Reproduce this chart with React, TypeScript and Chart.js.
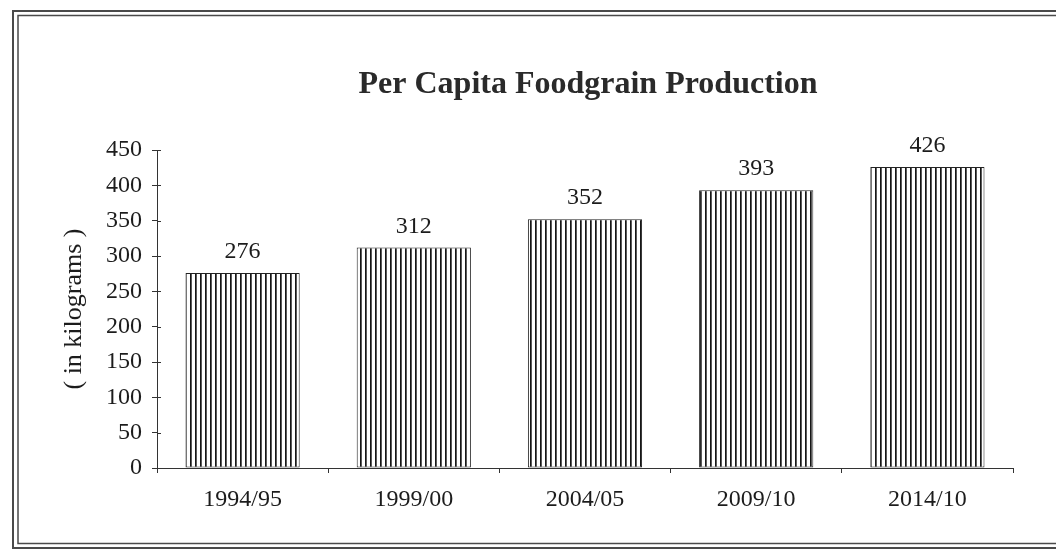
import React, { useEffect, useRef } from "react";
import { Chart, registerables } from "chart.js";

Chart.register(...registerables);

// Per capita foodgrain production, kilograms per person
const periods = ["1994/95", "1999/00", "2004/05", "2009/10", "2014/10"];
const perCapitaKg = [276, 312, 352, 393, 426];
const axisMin = 0;
const axisMax = 450;
const axisStep = 50;

const chartTitle = "Per Capita Foodgrain Production";
const yAxisTitle = "( in kilograms )";

const SERIF = '"Liberation Serif", "Times New Roman", serif';
const INK = "#1c1c1c";

// Vertical hatching used as the bar fill
function makeHatch(): CanvasPattern | string {
  const c = document.createElement("canvas");
  c.width = 5;
  c.height = 8;
  const g = c.getContext("2d");
  if (!g) return "#888";
  g.fillStyle = "#ffffff";
  g.fillRect(0, 0, 5, 8);
  g.fillStyle = "#161616";
  g.fillRect(0, 0, 1, 8);
  g.fillStyle = "#5a5a5a";
  g.fillRect(1, 0, 1, 8);
  const p = g.createPattern(c, "repeat");
  return p || "#888";
}

// Double-line frame around the whole figure, drawn on a white page
const framePlugin = {
  id: "frame",
  beforeDraw(chart: Chart) {
    const { ctx, width, height } = chart;
    ctx.save();
    ctx.fillStyle = "#ffffff";
    ctx.fillRect(0, 0, width, height);
    ctx.strokeStyle = "#4a4a4a";
    ctx.lineWidth = 2;
    ctx.strokeRect(13, 11, width + 40, 537);
    ctx.lineWidth = 1.5;
    ctx.strokeRect(18, 15.5, width + 40, 528);
    ctx.restore();
  },
};

// Title centred over the plotting area
const titlePlugin = {
  id: "areaTitle",
  afterDraw(chart: Chart) {
    const { ctx, chartArea } = chart;
    ctx.save();
    ctx.font = `bold 32px ${SERIF}`;
    ctx.fillStyle = "#2a2a2a";
    ctx.textAlign = "center";
    ctx.textBaseline = "alphabetic";
    ctx.fillText(chartTitle, (chartArea.left + chartArea.right) / 2 + 3, 93);
    ctx.restore();
  },
};

// Short inward half of the tick marks, so ticks cross the axes
const innerTicksPlugin = {
  id: "innerTicks",
  afterDraw(chart: Chart) {
    const { ctx, chartArea } = chart;
    const y = chart.scales.y;
    ctx.save();
    ctx.strokeStyle = "#333";
    ctx.lineWidth = 1;
    for (let v = axisMin; v <= axisMax; v += axisStep) {
      const py = Math.round(y.getPixelForValue(v)) + 0.5;
      ctx.beginPath();
      ctx.moveTo(chartArea.left, py);
      ctx.lineTo(chartArea.left + 4, py);
      ctx.stroke();
    }
    ctx.restore();
  },
};

// Value printed above each bar
const valueLabelPlugin = {
  id: "valueLabels",
  afterDatasetsDraw(chart: Chart) {
    const { ctx } = chart;
    const meta = chart.getDatasetMeta(0);
    const values = chart.data.datasets[0].data as number[];
    ctx.save();
    ctx.font = `24px ${SERIF}`;
    ctx.fillStyle = INK;
    ctx.textAlign = "center";
    ctx.textBaseline = "alphabetic";
    meta.data.forEach((bar: any, i: number) => {
      ctx.fillText(String(values[i]), bar.x, bar.y - 15);
    });
    ctx.restore();
  },
};

export default function App() {
  const canvasRef = useRef<HTMLCanvasElement | null>(null);

  useEffect(() => {
    const canvas = canvasRef.current;
    if (!canvas) return;
    const hatch = makeHatch();

    const chart = new Chart(canvas, {
      type: "bar",
      data: {
        labels: periods,
        datasets: [
          {
            data: perCapitaKg,
            backgroundColor: hatch as any,
            borderColor: "#222",
            borderWidth: 1,
            borderSkipped: false,
            barPercentage: 0.667,
            categoryPercentage: 1,
          },
        ],
      },
      options: {
        animation: false,
        responsive: false,
        devicePixelRatio: 1,
        layout: { padding: { top: 150, left: 52, right: 43, bottom: 32 } },
        plugins: {
          legend: { display: false },
          title: { display: false },
          tooltip: { enabled: false },
        },
        scales: {
          x: {
            grid: {
              display: true,
              drawOnChartArea: false,
              drawTicks: true,
              tickLength: 5,
              color: "#333",
              offset: true,
            },
            border: { display: true, color: "#333", width: 1 },
            ticks: {
              color: INK,
              font: { family: SERIF, size: 24 },
              padding: 12,
              maxRotation: 0,
            },
            afterFit(scale: any) {
              scale.height = 50;
            },
          },
          y: {
            min: axisMin,
            max: axisMax,
            grid: {
              display: true,
              drawOnChartArea: false,
              drawTicks: true,
              tickLength: 5,
              color: "#333",
            },
            border: { display: true, color: "#333", width: 1 },
            ticks: {
              stepSize: axisStep,
              color: INK,
              font: { family: SERIF, size: 24 },
              padding: 10,
            },
            title: {
              display: true,
              text: yAxisTitle,
              color: INK,
              font: { family: SERIF, size: 26 },
              padding: { top: 7, bottom: 0 },
            },
            afterFit(scale: any) {
              scale.width = 105;
            },
          },
        },
      },
      plugins: [framePlugin, titlePlugin, innerTicksPlugin, valueLabelPlugin],
    });

    return () => chart.destroy();
  }, []);

  return (
    <div
      style={{
        position: "fixed",
        left: 0,
        top: 0,
        width: 1056,
        height: 550,
        background: "#fff",
        overflow: "hidden",
      }}
    >
      <canvas ref={canvasRef} width={1056} height={550} style={{ display: "block" }} />
    </div>
  );
}
